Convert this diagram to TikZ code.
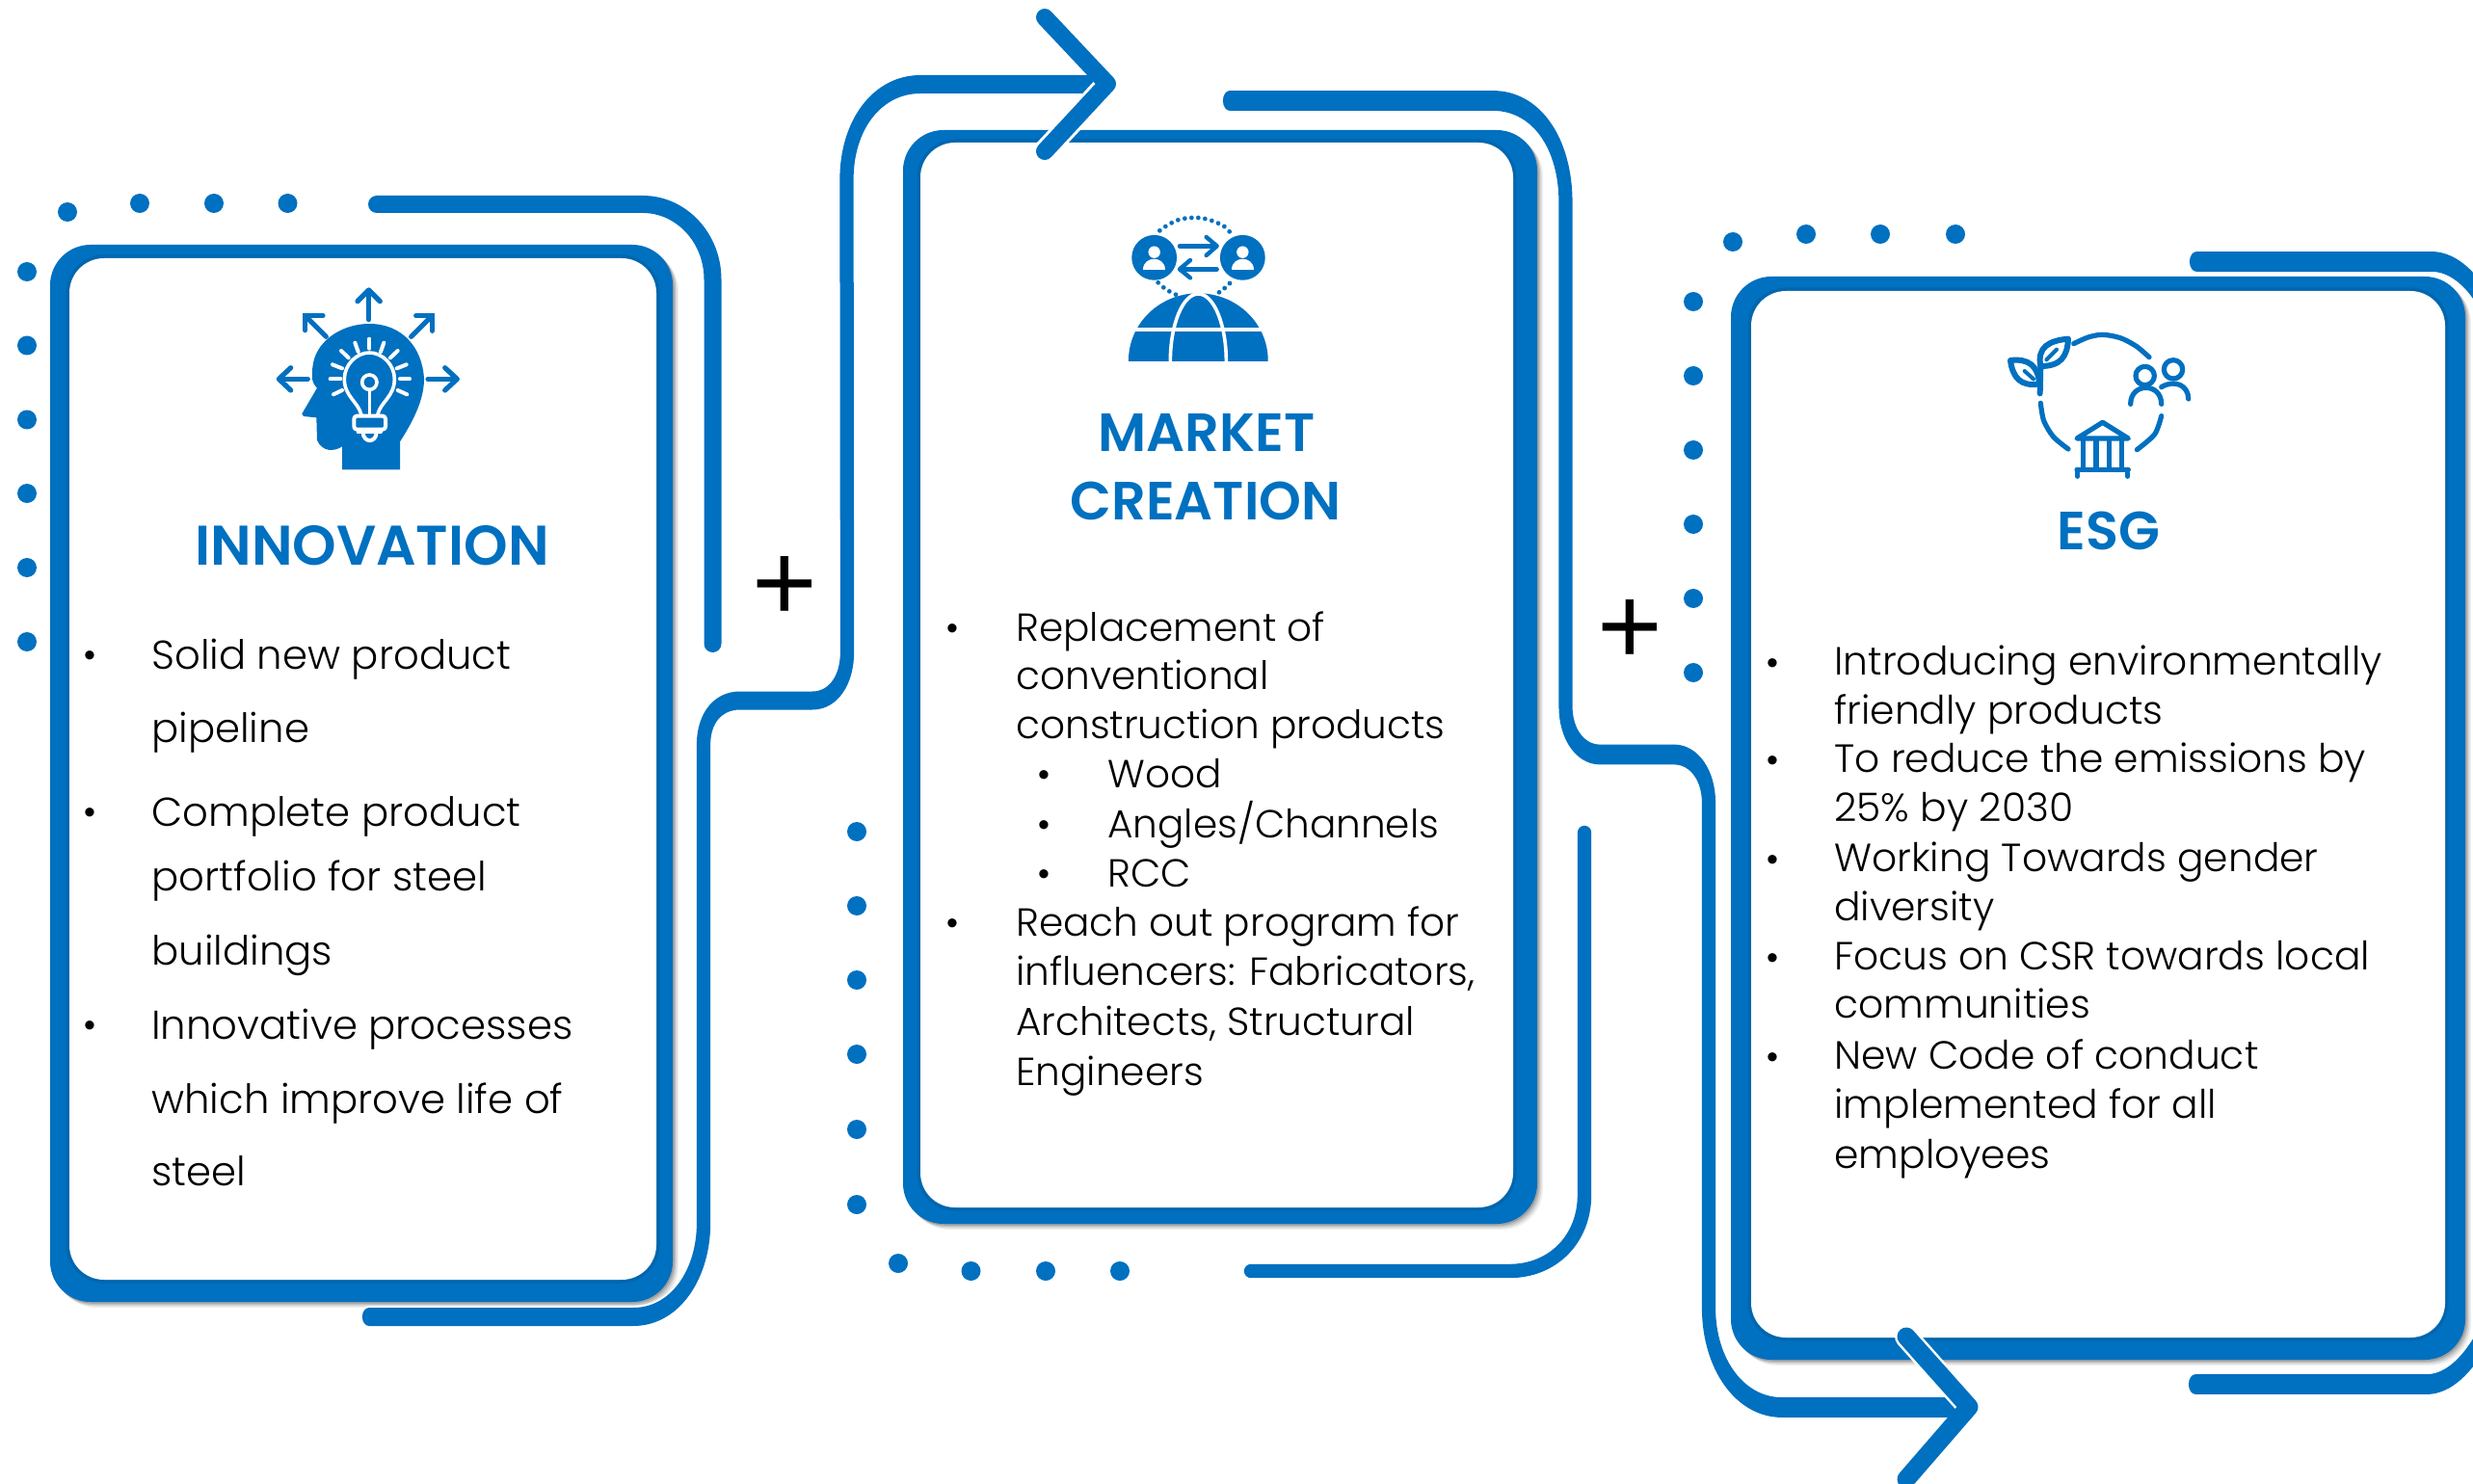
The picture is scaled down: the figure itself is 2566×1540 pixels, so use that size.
\documentclass[tikz,border=0pt]{standalone}
\usepackage{fontspec}
\setmainfont{Poppins Light}[BoldFont={Poppins SemiBold}]
\newfontfamily\plusfont{Liberation Sans}
\definecolor{acc}{HTML}{0070C0}
\definecolor{accd}{HTML}{0066AE}
\tikzset{
  trk/.style={draw=acc,line cap=round,line join=round},
  halo/.style={draw=white,line cap=round,line join=round},
  dotm/.style={fill=acc,draw=none},
  bodya/.style={anchor=base west,inner sep=0pt,yshift=-1.5pt,font=\fontsize{20.9}{22}\selectfont,text=black},
  bodyb/.style={anchor=base west,inner sep=0pt,yshift=-1pt,font=\fontsize{20.3}{22}\selectfont,text=black},
  bodyc/.style={anchor=base west,inner sep=0pt,yshift=-0.75pt,font=\fontsize{20.4}{22}\selectfont,text=black},
  bul/.style={anchor=base,inner sep=0pt,font=\plusfont\fontsize{17}{18}\selectfont,text=black},
  ttl/.style={anchor=base,inner sep=0pt,font=\fontsize{29}{30}\selectfont\bfseries,text=acc},
  ttlb/.style={anchor=base,inner sep=0pt,font=\fontsize{27.9}{30}\selectfont\bfseries,text=acc},
  plusm/.style={inner sep=0pt,font=\plusfont\fontsize{58}{60}\selectfont,text=black},
  ic/.style={draw=acc,line cap=round,line join=round,fill=none},
  icw/.style={draw=white,line cap=round,line join=round,fill=none},
}
% outer x1 y1 x2 y2, inner x1 y1 x2 y2
\newcommand{\mycard}[8]{%
  \foreach \o/\op in {6/.06,4.5/.09,3/.12,1.5/.16}{
    \fill[black,opacity=\op,rounded corners=21pt] (#1,#2)++(\o,\o) rectangle (#3+\o,#4+\o);
  }
  \fill[acc,rounded corners=21pt] (#1,#2) rectangle (#3,#4);
  \draw[accd,line width=3.5pt,rounded corners=18pt] (#5,#6) rectangle (#7,#8);
  \fill[white,rounded corners=18pt] (#5,#6) rectangle (#7,#8);
}
\begin{document}
\begin{tikzpicture}[x=0.5pt,y=-0.5pt]
\useasboundingbox (0,0) rectangle (2566,1540);
\fill[white] (0,0) rectangle (2566,1540);
\clip (0,0) rectangle (2566,1540);

% cards
\mycard{52}{254}{698}{1351}{72}{268}{681}{1328}
\mycard{937}{135}{1595}{1270}{955}{148}{1570}{1253}
\mycard{1796}{287}{2558}{1411}{1817}{302}{2537}{1388}

% dots
\foreach \x/\y in {28/282,28/358.5,28/435.5,28/512,28/589,28/666,70/220,145/211,222/211,298.5/211,
  889/863,889/940,889/1017,889/1094,889/1172,889/1250,932/1311,1007.5/1319,1085/1319,1162/1319,
  1757/313,1757/390,1757/467,1757/544,1757/621,1757/698,1798/251,1874/243,1951/243,2029/243}
  {\fill[dotm] (\x,\y) circle (5pt);}

% track 1a
\draw[halo,line width=11pt] (391,212) -- (667,212) .. controls (707,212) and (739.5,247) .. (739.5,290) -- (739.5,668);
\draw[trk,line width=9pt] (391,212) -- (667,212) .. controls (707,212) and (739.5,247) .. (739.5,290) -- (739.5,668);
% track 2b
\draw[halo,line width=9.2pt] (1298,1319) -- (1566,1319) .. controls (1612,1319) and (1644,1285) .. (1644,1240) -- (1644,864);
\draw[trk,line width=7.2pt] (1298,1319) -- (1566,1319) .. controls (1612,1319) and (1644,1285) .. (1644,1240) -- (1644,864);
% track 1b (wider horizontally drawn bands than vertical ones)
\begin{scope}[x=0.66667pt,transform canvas={xscale=0.75}]
\draw[halo,line width=11.5pt] (383,1366.5) -- (657,1366.5) .. controls (702,1366.5) and (730,1320) .. (730,1270) -- (730,773) .. controls (730,745) and (745,727) .. (768,727) -- (843,727) .. controls (865,727) and (879,705) .. (879,677) -- (878.5,186) .. controls (878.5,130) and (910,87.5) .. (955,87.5) -- (1130,87.5);
\draw[trk,line width=9.5pt] (383,1366.5) -- (657,1366.5) .. controls (702,1366.5) and (730,1320) .. (730,1270) -- (730,773) .. controls (730,745) and (745,727) .. (768,727) -- (843,727) .. controls (865,727) and (879,705) .. (879,677) -- (878.5,186) .. controls (878.5,130) and (910,87.5) .. (955,87.5) -- (1130,87.5);
\end{scope}
% track 2a, 3a, 3b
\begin{scope}[x=0.73529pt,transform canvas={xscale=0.68}]
\draw[halo,line width=12.4pt] (1276,104.5) -- (1549,104.5) .. controls (1595,104.5) and (1624.5,150) .. (1624.5,210) -- (1624.5,733) .. controls (1624.5,762) and (1640,783) .. (1660,783) -- (1737,783) .. controls (1758,783) and (1773,805) .. (1773,833) -- (1773,1357) .. controls (1773,1415) and (1805,1460.5) .. (1849,1460.5) -- (2030,1460.5);
\draw[trk,line width=10.4pt] (1276,104.5) -- (1549,104.5) .. controls (1595,104.5) and (1624.5,150) .. (1624.5,210) -- (1624.5,733) .. controls (1624.5,762) and (1640,783) .. (1660,783) -- (1737,783) .. controls (1758,783) and (1773,805) .. (1773,833) -- (1773,1357) .. controls (1773,1415) and (1805,1460.5) .. (1849,1460.5) -- (2030,1460.5);
\draw[trk,line width=10.4pt] (2279,271.5) -- (2523,271.5) .. controls (2555,271.5) and (2585,310) .. (2600,370);
\draw[trk,line width=10.4pt] (2278,1436.5) -- (2518,1436.5) .. controls (2550,1436.5) and (2580,1395) .. (2600,1330);
\end{scope}
% arrowheads
\draw[halo,line width=12pt] (1149,87) -- (1084,157);
\draw[trk,line width=9pt] (1084,18) -- (1149,87) -- (1084,157);
\draw[halo,line width=12pt] (2043,1460) -- (1978,1387);
\draw[trk,line width=9.5pt] (1978,1387) -- (2043,1460) -- (1978,1535);

% plus signs
\node[plusm] (plusa) at (814,611) {+};
\node[plusm] (plusb) at (1691,656) {+};

% titles
\node[ttl] (t1) at (386,587) {INNOVATION};
\node[ttlb] (t2a) at (1252,469) {MARKET};
\node[ttlb] (t2b) at (1251,539) {CREATION};
\node[ttlb] (t3) at (2188,570) {ESG};

% card 1 text
\node[bul] (b11) at (93,691) {•};
\node[bodya] (l11) at (157,691) {Solid new product};
\node[bodya] (l12) at (157,767.5) {pipeline};
\node[bul] (b12) at (93,854) {•};
\node[bodya] (l13) at (157,854) {Complete product};
\node[bodya] (l14) at (157,921) {portfolio for steel};
\node[bodya] (l15) at (157,998) {buildings};
\node[bul] (b13) at (93,1075) {•};
\node[bodya] (l16) at (157,1075) {Innovative processes};
\node[bodya] (l17) at (157,1152) {which improve life of};
\node[bodya] (l18) at (157,1227) {steel};

% card 2 text
\node[bul] (b21) at (988,663) {•};
\node[bodyb] (l21) at (1054,663) {Replacement of};
\node[bodyb] (l22) at (1054,713.5) {conventional};
\node[bodyb] (l23) at (1054,764) {construction products};
\node[bul] (b22) at (1083,815) {•};
\node[bodyb] (l24) at (1149,815) {Wood};
\node[bul] (b23) at (1083,867) {•};
\node[bodyb] (l25) at (1149,867) {Angles/Channels};
\node[bul] (b24) at (1083,918) {•};
\node[bodyb] (l26) at (1149,918) {RCC};
\node[bul] (b25) at (988,969) {•};
\node[bodyb] (l27) at (1054,969) {Reach out program for};
\node[bodyb] (l28) at (1054,1020) {influencers: Fabricators,};
\node[bodyb] (l29) at (1054,1072) {Architects, Structural};
\node[bodyb] (l2a) at (1054,1124) {Engineers};

% card 3 text
\node[bul] (b31) at (1839,699) {•};
\node[bodyc] (l31) at (1903,699) {Introducing environmentally};
\node[bodyc] (l32) at (1903,749.5) {friendly products};
\node[bul] (b32) at (1839,800) {•};
\node[bodyc] (l33) at (1903,800) {To reduce the emissions by};
\node[bodyc] (l34) at (1903,851) {25\% by 2030};
\node[bul] (b33) at (1839,903) {•};
\node[bodyc] (l35) at (1903,903) {Working Towards gender};
\node[bodyc] (l36) at (1903,954) {diversity};
\node[bul] (b34) at (1839,1005) {•};
\node[bodyc] (l37) at (1903,1005) {Focus on CSR towards local};
\node[bodyc] (l38) at (1903,1055) {communities};
\node[bul] (b35) at (1839,1108) {•};
\node[bodyc] (l39) at (1903,1108) {New Code of conduct};
\node[bodyc] (l3a) at (1903,1158.5) {implemented for all};
\node[bodyc] (l3b) at (1903,1211) {employees};

% icon 1: head with bulb and arrows
\begin{scope}[shift={(260,280)},x=0.16667pt,y=-0.16667pt]
\fill[acc] (285,622) -- (285,550) .. controls (262,566) and (222,568) .. (207,530) -- (205,460) -- (165,456) -- (160,448) -- (207,368) .. controls (190,350) and (188,335) .. (195,290) .. controls (210,215) and (290,168) .. (370,168) .. controls (470,168) and (535,240) .. (540,340) .. controls (540,410) and (500,480) .. (465,535) -- (465,622) -- cycle;
\foreach \a/\b/\c/\d in {370/215/370/245,325/227/335/255,415/227/405/255,282/252/305/274,458/252/435/274,255/295/285/307,485/295/455/307,248/340/280/340,495/340/465/340,258/388/285/375,487/388/458/375}
  {\draw[icw,line width=2pt] (\a,\b) -- (\c,\d);}
\draw[icw,line width=1.8pt] (345,452) .. controls (335,410) and (292,395) .. (292,340) .. controls (292,295) and (330,258) .. (370,258) .. controls (410,258) and (448,295) .. (448,340) .. controls (448,395) and (405,410) .. (395,452);
\draw[icw,line width=1.8pt] (370,350) circle (23);
\draw[icw,line width=1.8pt] (370,373) -- (370,452);
\draw[icw,line width=2pt,rounded corners=1.5pt] (322,455) rectangle (420,497);
\draw[icw,line width=2pt] (335,505) -- (405,505);
\draw[icw,line width=2pt] (350,505) .. controls (350,540) and (392,540) .. (392,505);
\foreach \a/\b/\c/\d in {368/155/368/70,235/208/175/148,500/208/562/146,178/340/92/340,552/340/640/340}
  {\draw[ic,line width=2.6pt] (\a,\b) -- (\c,\d);}
\draw[ic,line width=2.6pt] (333,98) -- (368,63) -- (403,98);
\draw[ic,line width=2.6pt,line join=miter] (170,188) -- (170,143) -- (225,143);
\draw[ic,line width=2.6pt,line join=miter] (515,143) -- (566,143) -- (566,190);
\draw[ic,line width=2.6pt] (125,305) -- (88,340) -- (125,375);
\draw[ic,line width=2.6pt] (605,305) -- (643,340) -- (605,375);
\end{scope}

% icon 2: people over globe
\begin{scope}[shift={(1150,210)},x=0.16667pt,y=-0.16667pt]
\foreach \a/\b in {160/88,178/75,197/64,217/55,238/50,259/48,280/48,301/51,322/57,342/65,361/75,377/91,155/250,172/265,190/277,210/287,345/280,362/267,378/252}
  {\fill[acc] (\a,\b) circle (1.2pt);}
\fill[acc] (143,172) circle (11.7pt);
\fill[acc] (418,172) circle (11.7pt);
\fill[white] (143,155) circle (3.1pt);
\fill[white] (418,155) circle (3.1pt);
\fill[white] (109,211) .. controls (109,165) and (177,165) .. (177,211) -- cycle;
\fill[white] (384,211) .. controls (384,165) and (452,165) .. (452,211) -- cycle;
\draw[ic,line width=2.2pt] (222,136) -- (335,136);
\draw[ic,line width=2.2pt] (305,108) -- (338,136) -- (305,165);
\draw[ic,line width=2.2pt] (338,208) -- (225,208);
\draw[ic,line width=2.2pt] (255,180) -- (222,208) -- (255,235);
\begin{scope}
\clip (40,280) rectangle (520,494);
\fill[acc] (280,493) ellipse [x radius=36.2pt,y radius=35pt];
\draw[white,line width=2pt] (20,396) -- (540,396);
\draw[white,line width=1.8pt] (280,495) ellipse [x radius=14.5pt,y radius=35pt];
\end{scope}
\end{scope}

% icon 3: leaves, people, building in a ring
\begin{scope}[shift={(2060,330)},x=0.16667pt,y=-0.16667pt]
\draw[ic,line width=2.6pt] plot[smooth] coordinates {(275,80) (320,60) (365,52) (420,62) (470,88) (510,122)};
\draw[ic,line width=2.6pt] plot[smooth] coordinates {(172,265) (182,320) (212,370) (258,408)};
\draw[ic,line width=2.6pt] plot[smooth] coordinates {(548,305) (527,362) (472,410)};
\draw[ic,line width=3pt] (170,235) -- (172,150);
\draw[ic,line width=3pt] (172,150) .. controls (160,90) and (200,70) .. (258,65) .. controls (255,120) and (235,150) .. (172,150) -- cycle;
\draw[ic,line width=2pt] (190,130) -- (222,98);
\draw[ic,line width=3pt] (168,205) .. controls (110,215) and (85,185) .. (78,132) .. controls (135,125) and (165,150) .. (168,205) -- cycle;
\draw[ic,line width=2pt] (122,165) -- (150,190);
\draw[ic,line width=2.6pt] (497,180) circle (29);
\draw[ic,line width=2.6pt] (452,268) .. controls (452,200) and (548,200) .. (548,268);
\draw[ic,line width=2.6pt] (585,160) circle (29);
\draw[ic,line width=2.6pt] (548,215) .. controls (590,190) and (632,210) .. (632,252);
\draw[ic,line width=2.6pt] (285,375) -- (365,325) -- (445,375) -- cycle;
\foreach \a in {305,345,385,425} {\draw[ic,line width=2.6pt] (\a,380) -- (\a,470);}
\draw[ic,line width=2.6pt] (285,472) -- (445,472);
\draw[ic,line width=2.6pt] (287,472) -- (287,493);
\draw[ic,line width=2.6pt] (443,472) -- (443,493);
\end{scope}
\end{tikzpicture}
\end{document}
